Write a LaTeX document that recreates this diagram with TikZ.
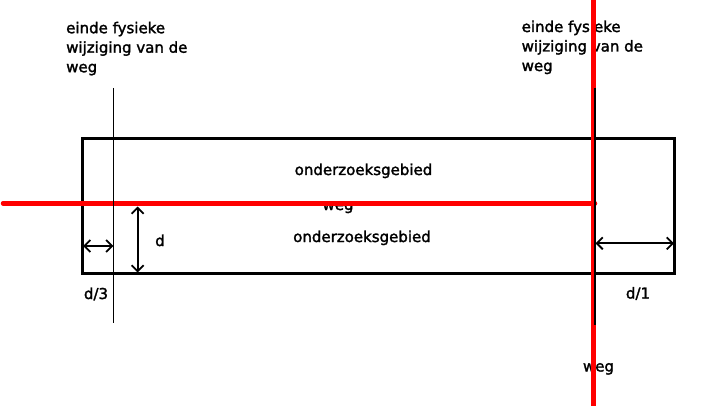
\documentclass[tikz,border=0pt]{standalone}
\usepackage{fontspec}
\setmainfont[FakeBold=1.8]{DejaVu Sans}
\usetikzlibrary{arrows.meta}
\begin{document}
\begin{tikzpicture}[x=1pt,y=-1pt,
  lbl/.style={font=\fontsize{15}{19.5}\selectfont, inner sep=0pt},
  redline/.style={draw={rgb,255:red,255;green,0;blue,0}, line width=4.5pt},
  box/.style={draw=black, line width=3pt},
  thin/.style={draw=black, line width=1pt},
  dimarrow/.style={draw=black, line width=1.8pt, {Straight Barb[length=6pt,width=12pt]}-{Straight Barb[length=6pt,width=12pt]}},
]
\useasboundingbox (0,0) rectangle (706,406);
% study area
\draw[box] (82.5,139) rectangle (674.5,273.5);
% coordinates
\coordinate (rl0) at (3,203.3);
\coordinate (rl1) at (595,203.3);
\coordinate (rv0) at (593.5,0);
\coordinate (rv1) at (593.5,406);
\coordinate (lv0) at (113.3,88);
\coordinate (lv1) at (113.3,323);
\coordinate (bv0) at (594.5,88);
\coordinate (bv1) at (594.5,325);
\coordinate (a30) at (83,246);
\coordinate (a31) at (113.3,246);
\coordinate (ad0) at (137.7,206.5);
\coordinate (ad1) at (137.7,272.5);
\coordinate (a10) at (595.5,243.3);
\coordinate (a11) at (674,243.3);
% texts
\node[lbl, anchor=north west, align=left] (tl) at (66,21.6) {einde fysieke\\wijziging van de\\weg};
\node[lbl, anchor=north west, align=left] (tr) at (521.5,20.4) {einde fysieke\\wijziging van de\\weg};
\node[lbl, anchor=base] (o1) at (363.5,175) {onderzoeksgebied};
\node[lbl, anchor=base] (o2) at (362,242) {onderzoeksgebied};
\node[lbl, anchor=base] (w1) at (338,210) {weg};
\node[lbl, anchor=base] (w2) at (598.5,371.5) {weg};
\node[lbl, anchor=base] (d) at (160,246) {d};
\node[lbl, anchor=base] (d3) at (96,299) {d/3};
\node[lbl, anchor=base] (d1) at (638,298.5) {d/1};
% red road lines
\draw[redline, line cap=round] (rl0) -- (rl1);
\draw[redline] (rv0) -- (rv1);
% black verticals
\draw[thin] (lv0) -- (lv1);
\draw[draw=black, line width=2pt] (bv0) -- (bv1);
% dimension arrows
\draw[dimarrow] (a30) -- (a31);
\draw[dimarrow] (ad0) -- (ad1);
\draw[dimarrow] (a10) -- (a11);
\end{tikzpicture}
\end{document}
